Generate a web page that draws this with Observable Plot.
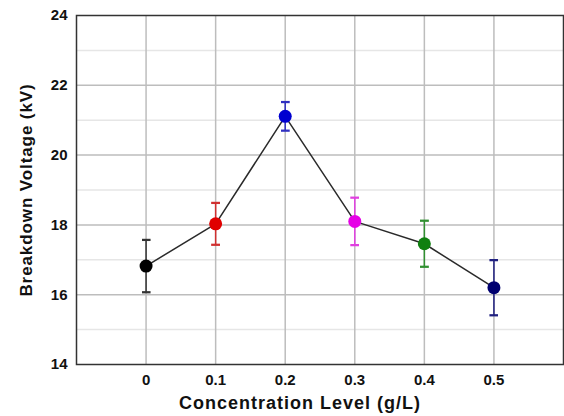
<!DOCTYPE html>
<html>
<head>
<meta charset="utf-8">
<script src="https://cdn.jsdelivr.net/npm/d3@7"></script>
<script src="https://cdn.jsdelivr.net/npm/@observablehq/plot@0.6"></script>
<style>
  html, body { margin: 0; padding: 0; background: #fff; }
  #chart svg { display: block; }
</style>
</head>
<body>
<div id="chart"></div>
<script>
const concentration = [0, 0.1, 0.2, 0.3, 0.4, 0.5];
const voltage = [16.82, 18.03, 21.11, 18.10, 17.46, 16.20];
const errors = [0.75, 0.60, 0.41, 0.68, 0.66, 0.79];
const dotColors = ["#000000", "#e00000", "#0000d0", "#e600e6", "#108010", "#000070"];
const barColors = ["#333333", "#d03030", "#3030c0", "#e040e0", "#309030", "#202080"];
const xTicks = [0, 0.1, 0.2, 0.3, 0.4, 0.5];
const xTickLabels = ["0", "0.1", "0.2", "0.3", "0.4", "0.5"];
const yTicks = [14, 16, 18, 20, 22, 24];
const yMinor = [15, 17, 19, 21, 23];
const xLabel = "Concentration Level (g/L)";
const yLabel = "Breakdown Voltage (kV)";

const data = concentration.map((c, i) => ({
  x: c, y: voltage[i], lo: voltage[i] - errors[i], hi: voltage[i] + errors[i],
  dot: dotColors[i], bar: barColors[i]
}));

const font = "'Liberation Sans', Arial, sans-serif";

const chart = Plot.plot({
  width: 564,
  height: 416,
  marginLeft: 76,
  marginRight: 1,
  marginTop: 15,
  marginBottom: 52,
  style: { fontFamily: font, background: "#fff" },
  x: { domain: [-0.1, 0.6] },
  y: { domain: [14, 24] },
  marks: [
    Plot.ruleY(yMinor, { stroke: "#e6e6e6", strokeWidth: 1.5 }),
    Plot.ruleY(yTicks.slice(1, -1), { stroke: "#bdbdbd", strokeWidth: 1.5 }),
    Plot.ruleX(xTicks, { stroke: "#bdbdbd", strokeWidth: 1.5 }),
    Plot.axisY({ ticks: yTicks, tickSize: 0, tickPadding: 9, label: null, fontSize: 15, fontWeight: "bold", fill: "#111" }),
    Plot.axisX({ ticks: xTicks, tickSize: 0, tickPadding: 10, label: null, fontSize: 15, fontWeight: "bold", fill: "#111",
      tickFormat: d => xTickLabels[xTicks.indexOf(d)] }),
    Plot.link(data, { x1: "x", x2: "x", y1: "lo", y2: "hi", stroke: "bar", strokeWidth: 1.5, markerStart: "tick", markerEnd: "tick" }),
    Plot.line(data, { x: "x", y: "y", stroke: "#2a2a2a", strokeWidth: 1.5 }),
    Plot.dot(data, { x: "x", y: "y", r: 6.5, fill: "dot", stroke: "none" }),
    Plot.frame({ stroke: "#333", strokeWidth: 1.5 }),
    Plot.text([yLabel], { frameAnchor: "left", textAnchor: "middle", lineAnchor: "middle", dx: -50, rotate: -90, fontSize: 17, fontWeight: "bold", fill: "#111" }),
    Plot.text([xLabel], { frameAnchor: "bottom", lineAnchor: "middle", dy: 39, dx: -20, fontSize: 18, fontWeight: "bold", fill: "#111" })
  ]
});
d3.select(chart).selectAll("text")
  .filter(function () { return this.textContent === xLabel || this.textContent === yLabel; })
  .attr("letter-spacing", function () { return this.textContent === xLabel ? 1 : 0.9; });
document.getElementById("chart").appendChild(chart);
</script>
</body>
</html>
